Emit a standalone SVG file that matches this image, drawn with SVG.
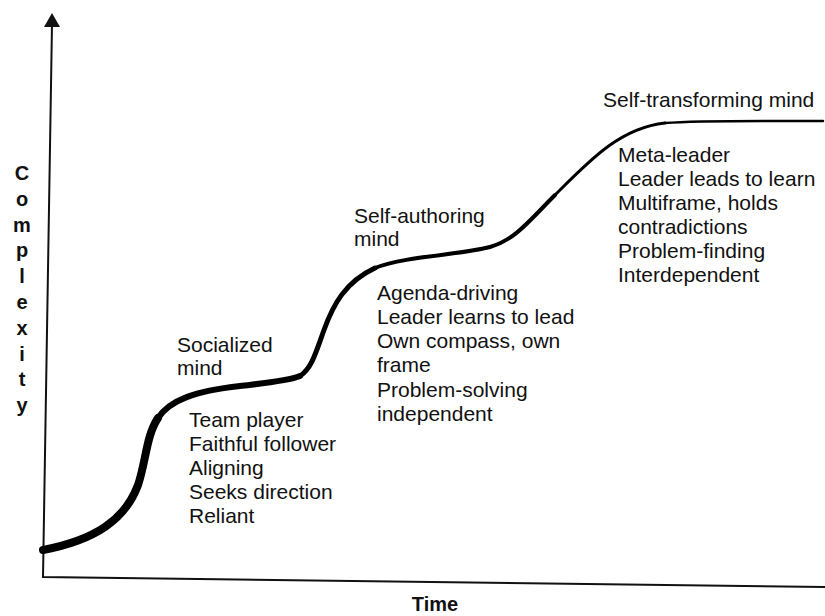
<svg xmlns="http://www.w3.org/2000/svg" width="825" height="616" viewBox="0 0 825 616">
<style>
.t{font-family:"Liberation Sans",Arial,sans-serif;font-size:21px;fill:#111}
.b{font-family:"Liberation Sans",Arial,sans-serif;font-size:20px;font-weight:bold;fill:#111}
.c{fill:none;stroke:#000;stroke-linecap:round}
.ax{fill:none;stroke:#111;stroke-width:2}
</style>
<rect width="825" height="616" fill="#fff"/>
<g id="axes">
<path class="ax" d="M52,24 L43,577 L825,587"/>
<polygon points="52,13 44,27 60,27" fill="#111"/>
</g>
<g id="connectors">
<path class="c" stroke-width="8" d="M43,550 C95,540 125,520 138,485 C146,462 146,436 158,418"/>
<path class="c" stroke-width="6" d="M158,418 C170,400 195,391 240,386 C265,383 288,381 300,376"/>
<path class="c" stroke-width="5" d="M300,376 C312,368 316,352 324,330 C333,305 345,282 375,268"/>
<path class="c" stroke-width="4" d="M375,268 C405,256 460,255 490,247 C515,240 530,220 555,195"/>
<path class="c" stroke-width="3" d="M555,195 C590,160 620,128 665,123"/>
<path class="c" stroke-width="2.5" d="M665,123 C700,120 760,121 823,121"/>
</g>
<g id="ylabel">
<text class="b" text-anchor="middle" x="22">
<tspan x="22" y="180">C</tspan><tspan x="22" y="206">o</tspan><tspan x="22" y="232">m</tspan><tspan x="22" y="257">p</tspan><tspan x="22" y="283">l</tspan><tspan x="22" y="309">e</tspan><tspan x="22" y="335">x</tspan><tspan x="22" y="361">i</tspan><tspan x="22" y="386">t</tspan><tspan x="22" y="412">y</tspan>
</text>
</g>
<g id="xlabel"><text class="b" x="435" y="611" text-anchor="middle">Time</text></g>
<g id="socialized">
<text class="t"><tspan x="177" y="352">Socialized</tspan><tspan x="177" y="375">mind</tspan></text>
<text class="t"><tspan x="189" y="427">Team player</tspan><tspan x="189" y="451">Faithful follower</tspan><tspan x="189" y="475">Aligning</tspan><tspan x="189" y="499">Seeks direction</tspan><tspan x="189" y="523">Reliant</tspan></text>
</g>
<g id="self-authoring">
<text class="t"><tspan x="354" y="223">Self-authoring</tspan><tspan x="354" y="246">mind</tspan></text>
<text class="t"><tspan x="377" y="300">Agenda-driving</tspan><tspan x="377" y="324">Leader learns to lead</tspan><tspan x="377" y="348">Own compass, own</tspan><tspan x="377" y="372">frame</tspan><tspan x="377" y="397">Problem-solving</tspan><tspan x="377" y="421">independent</tspan></text>
</g>
<g id="self-transforming">
<text class="t"><tspan x="603" y="107">Self-transforming mind</tspan></text>
<text class="t"><tspan x="618" y="162">Meta-leader</tspan><tspan x="618" y="186">Leader leads to learn</tspan><tspan x="618" y="210">Multiframe, holds</tspan><tspan x="618" y="234">contradictions</tspan><tspan x="618" y="258">Problem-finding</tspan><tspan x="618" y="282">Interdependent</tspan></text>
</g>
</svg>
